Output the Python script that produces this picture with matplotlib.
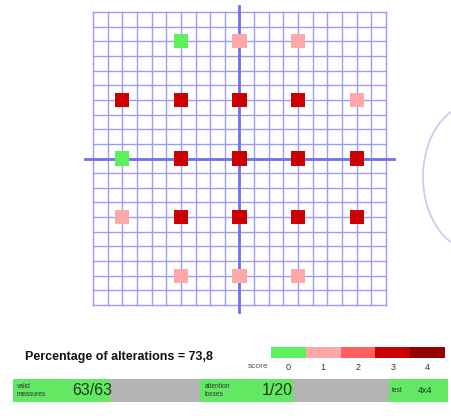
import matplotlib
matplotlib.use("Agg")
import matplotlib.pyplot as plt
from matplotlib.patches import Ellipse

plt.rcParams['font.family'] = ['Liberation Sans', 'DejaVu Sans']

# ---- data ----
pt_x = [-4, 0, 4, -8, -4, 0, 4, 8, -8, -4, 0, 4, 8, -8, -4, 0, 4, 8, -4, 0, 4]
pt_y = [8, 8, 8, 4, 4, 4, 4, 4, 0, 0, 0, 0, 0, -4, -4, -4, -4, -4, -8, -8, -8]
pt_score = [0, 1, 1, 3, 3, 3, 3, 1, 0, 3, 3, 3, 3, 1, 3, 3, 3, 3, 1, 1, 1]
score_levels = [0, 1, 2, 3, 4]
score_colors = ['#5cf05c', '#ffa8a8', '#ff6060', '#cc0000', '#960000']
percentage_text = "Percentage of alterations = 73,8"
status_labels = ["valid\nmeasures", "attention\nlosses", "test"]
status_values = ["63/63", "1/20", "4x4"]
status_seg_widths = [97, 90, 93, 96, 59]
status_seg_colors = ['#62e862', '#b4b4b4', '#62e862', '#b4b4b4', '#62e862']

W, H = 452, 416
fig = plt.figure(figsize=(W / 100, H / 100), dpi=100)
fig.patch.set_facecolor('white')

def px_axes(x0, y0, x1, y1):
    return fig.add_axes([x0 / W, 1 - y1 / H, (x1 - x0) / W, (y1 - y0) / H])

# ---- main grid ----
scale = 14.65
cx, cy = 239.5, 158.5
xlim = (-11.0, 11.0)
ylim = (-10.9, 10.6)
ax = px_axes(cx + xlim[0] * scale, cy - ylim[1] * scale,
             cx + xlim[1] * scale, cy - ylim[0] * scale)
ax.set_xlim(*xlim)
ax.set_ylim(*ylim)
ax.axis('off')
grid_col = '#9c9cf0'
for g in range(-10, 11):
    ax.plot([g, g], [-10, 10], color=grid_col, lw=1.0, zorder=1)
    ax.plot([-10, 10], [g, g], color=grid_col, lw=1.0, zorder=1)
axis_col = '#7070e8'
ax.plot([-10.55, 10.55], [0, 0], color=axis_col, lw=2.0, zorder=2)
ax.plot([0, 0], [-10.5, 10.4], color=axis_col, lw=2.0, zorder=2)
ax.scatter(pt_x, pt_y, c=[score_colors[s] for s in pt_score], marker='s',
           s=104, linewidths=0, zorder=3)

# ---- overlay for decorations ----
ov = fig.add_axes([0, 0, 1, 1], zorder=-1)
ov.set_xlim(0, W)
ov.set_ylim(H, 0)
ov.axis('off')
ov.add_patch(Ellipse((476, 177), 106, 148, fill=False, edgecolor='#c8c8f0', lw=1.2))

fig.text(25 / W, 1 - 357 / H, percentage_text, fontsize=9.0, fontweight='bold',
         va='center', ha='left', color='#111111')

# ---- score colorbar ----
cb = px_axes(271, 347, 445, 358)
cb.bar(score_levels, [1] * len(score_levels), width=1.0, color=score_colors, linewidth=0)
cb.set_xlim(-0.5, 4.5)
cb.set_ylim(0, 1)
cb.axis('off')
for lv in score_levels:
    cb.text(lv, -0.45, str(lv), ha='center', va='top', fontsize=6.5, color='#333333')
cb.text(-0.58, -0.5, "score", ha='right', va='top', fontsize=6, color='#555555')

# ---- status bar ----
sb = px_axes(13, 379, 448, 402)
left = 0
for w, c in zip(status_seg_widths, status_seg_colors):
    sb.barh(0, w, left=left, height=1.0, color=c, linewidth=0)
    left += w
sb.set_xlim(0, sum(status_seg_widths))
sb.set_ylim(-0.5, 0.5)
sb.axis('off')
lab_x = [4, 192, 379]
val_x = [59, 249, 405]
val_fs = [11.5, 11.5, 6.5]
for lx, vx, lab, val, fs in zip(lab_x, val_x, status_labels, status_values, val_fs):
    sb.text(lx, 0, lab, ha='left', va='center', fontsize=4.8, color='#333333', linespacing=1.0)
    sb.text(vx, 0.02, val, ha='left', va='center', fontsize=fs, color='#1a3a1a')

fig.savefig("out.png", dpi=100)
